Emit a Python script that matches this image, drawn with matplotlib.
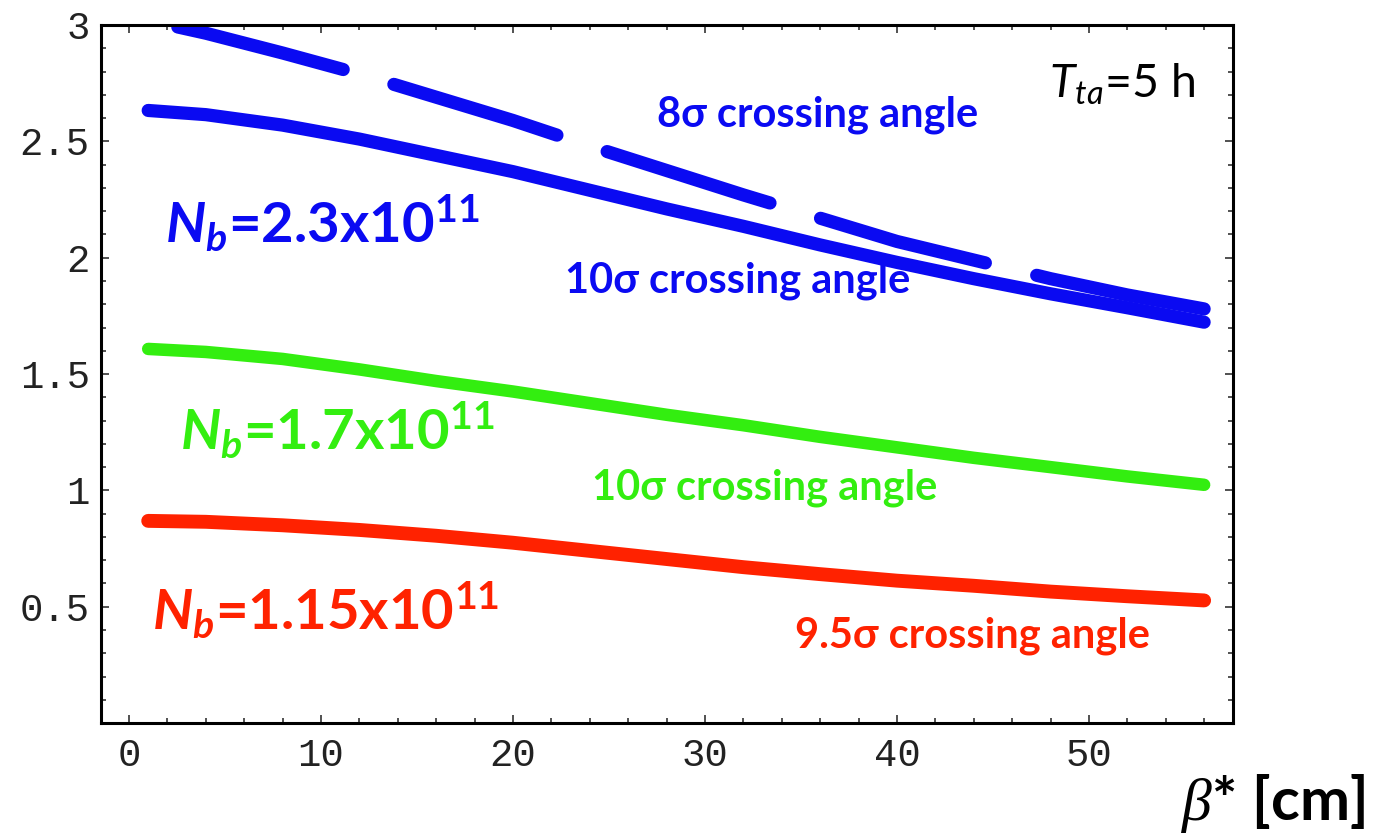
import matplotlib
matplotlib.use('Agg')
import matplotlib.pyplot as plt
from matplotlib.ticker import MultipleLocator, FixedLocator

# mathtext fonts: bold italic N_b, bold digits, italic T, serif italic beta
plt.rcParams['mathtext.fontset'] = 'custom'
plt.rcParams['mathtext.it'] = 'Lato:italic:bold'
plt.rcParams['mathtext.rm'] = 'Lato:bold'
plt.rcParams['mathtext.tt'] = 'Lato:italic'
plt.rcParams['mathtext.sf'] = 'Liberation Serif:italic'
plt.rcParams['mathtext.fallback'] = 'stix'
plt.rcParams['lines.scale_dashes'] = False

# beta* [cm] and the curves
beta = [1, 4, 8, 12, 16, 20, 24, 28, 32, 36, 40, 44, 48, 52, 56]
blue_8sigma = [3.02, 2.965, 2.88, 2.79, 2.69, 2.59, 2.48, 2.375, 2.27, 2.17, 2.07, 1.99, 1.91, 1.84, 1.78]
blue_10sigma = [2.633, 2.615, 2.57, 2.51, 2.44, 2.37, 2.29, 2.21, 2.135, 2.055, 1.98, 1.91, 1.845, 1.785, 1.723]
green_10sigma = [1.608, 1.595, 1.565, 1.52, 1.47, 1.425, 1.375, 1.325, 1.28, 1.23, 1.185, 1.14, 1.10, 1.06, 1.024]
red_95sigma = [0.869, 0.865, 0.85, 0.83, 0.805, 0.775, 0.74, 0.705, 0.67, 0.64, 0.612, 0.59, 0.565, 0.545, 0.527]

xticks = [0, 10, 20, 30, 40, 50]
yticks = [0.5, 1, 1.5, 2, 2.5, 3]
ylabels = ['0.5', '1', '1.5', '2', '2.5', '3']

BLUE = '#0a0af2'
GREEN = '#33ee10'
RED = '#ff2200'

fig = plt.figure(figsize=(13.85, 8.33), dpi=100)
ax = fig.add_axes([0.0729, 0.1320, 0.8173, 0.8379])

# dashed 8 sigma curve: drawn from the right end so a dash ends at beta*=56
ax.plot(beta[::-1], blue_8sigma[::-1], color=BLUE, lw=9.5,
        dashes=(123, 38), dash_capstyle='round')
ax.plot(beta, blue_10sigma, color=BLUE, lw=9.5, solid_capstyle='round')
ax.plot(beta, green_10sigma, color=GREEN, lw=9.0, solid_capstyle='round')
ax.plot(beta, red_95sigma, color=RED, lw=10.0, solid_capstyle='round')

ax.set_xlim(-1.46, 57.5)
ax.set_ylim(0, 3.0)

ax.xaxis.set_major_locator(FixedLocator(xticks))
ax.xaxis.set_minor_locator(MultipleLocator(2))
ax.yaxis.set_major_locator(FixedLocator(yticks))
ax.yaxis.set_minor_locator(MultipleLocator(0.1))
ax.set_yticklabels(ylabels)

ax.tick_params(which='both', direction='in', top=True, right=True,
               width=1.1, colors='#222222')
ax.tick_params(which='major', length=6)
ax.tick_params(which='minor', length=3.6)
ax.tick_params(axis='y', pad=8)
ax.tick_params(axis='x', pad=11)
for lab in ax.get_xticklabels() + ax.get_yticklabels():
    lab.set_family('Liberation Mono')
    lab.set_fontsize(28)
    lab.set_color('#222222')
for sp in ax.spines.values():
    sp.set_linewidth(2.2)

# labels
ax.text(1.9, 2.067, r'$\mathit{N_b}$=2.3x10$^{11}$', color=BLUE,
        family='Lato', weight='bold', fontsize=40.5, va='baseline')
ax.text(2.66, 1.178, r'$\mathit{N_b}$=1.7x10$^{11}$', color=GREEN,
        family='Lato', weight='bold', fontsize=40.5, va='baseline')
ax.text(1.2, 0.405, r'$\mathit{N_b}$=1.15x10$^{11}$', color=RED,
        family='Lato', weight='bold', fontsize=40.5, va='baseline')

small = dict(family=['Lato', 'DejaVu Sans'], weight='bold', fontsize=30, va='baseline')
ax.text(27.5, 2.564, '8σ crossing angle', color=BLUE, **small)
ax.text(22.7, 1.851, '10σ crossing angle', color=BLUE, **small)
ax.text(24.1, 0.959, '10σ crossing angle', color=GREEN, **small)
ax.text(34.7, 0.324, '9.5σ crossing angle', color=RED, **small)

ax.text(47.9, 2.689, r'$\mathtt{T_{ta}}$=5 h', color='black',
        family='Lato', fontsize=33.5, va='baseline')

fig.text(0.853, 0.0156, r'$\mathsf{\beta}$* [cm]', color='black',
         family='Lato', weight='bold', fontsize=43, va='baseline')

fig.savefig('out.png', dpi=100)
